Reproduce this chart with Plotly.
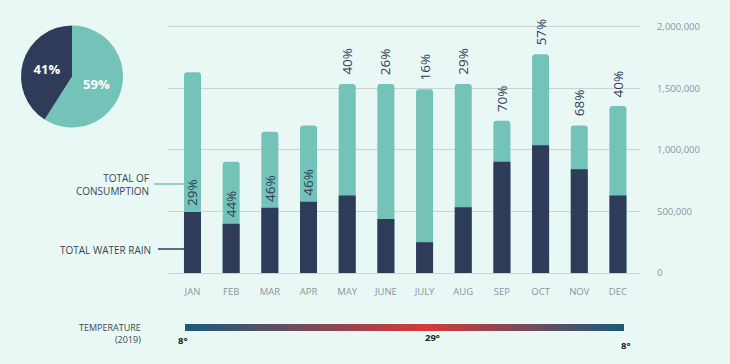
import plotly.graph_objects as go

# ---------------- data ----------------
months = ["JAN", "FEB", "MAR", "APR", "MAY", "JUNE", "JULY", "AUG", "SEP", "OCT", "NOV", "DEC"]
total_consumption = [1632000, 905000, 1149000, 1200000, 1537000, 1537000, 1493000, 1537000, 1238000, 1778000, 1200000, 1358000]
total_rain = [496000, 401000, 531000, 580000, 629000, 439000, 250000, 534000, 905000, 1038000, 843000, 629000]
pct_labels = [29, 44, 46, 46, 40, 26, 16, 29, 70, 57, 68, 40]
label_inside = [True, True, True, True, False, False, False, False, False, False, False, False]

pie_labels = ["TOTAL OF CONSUMPTION", "TOTAL WATER RAIN"]
pie_values = [59, 41]

y_ticks = [0, 500000, 1000000, 1500000, 2000000]

temp_months = [0, 6, 11]          # month index: JAN, JULY, DEC
temp_values = [8, 29, 8]
temp_title = ["TEMPERATURE", "(2019)"]

# ---------------- style ----------------
W, H = 730, 364
BG = "#e9f8f5"
TEAL = "#74c3b9"
NAVY = "#2f3c59"
GRID = "#c9d3d2"
GREY = "#8a959a"
TXT = "#3b4650"
FONT = "Open Sans"


def px_x(p):
    return p / W


def px_y(p):
    return 1 - p / H


# main plot area in pixels
PL, PR, PT, PB = 168, 640, 24.5, 273
YR = [0, 2020000]
XR = [-0.633, 11.57]
unit = (PR - PL) / (XR[1] - XR[0])
# temperature bar pixels
TL, TR, TT, TB = 185, 624, 324, 331
xr2 = [XR[0] + (TL - PL) / unit, XR[0] + (TR - PL) / unit]

fig = go.Figure()

fig.add_trace(go.Bar(
    x=months, y=total_consumption, marker=dict(color=TEAL, line=dict(width=0)),
    width=0.44, name="TOTAL OF CONSUMPTION", xaxis="x", yaxis="y",
))
fig.add_trace(go.Bar(
    x=months, y=total_rain, marker=dict(color=NAVY, line=dict(width=0)),
    width=0.44, name="TOTAL WATER RAIN", xaxis="x", yaxis="y",
))

fig.add_trace(go.Pie(
    labels=pie_labels, values=pie_values, sort=False, direction="clockwise",
    marker=dict(colors=[TEAL, NAVY], line=dict(width=0)),
    textinfo="percent", textposition="inside", insidetextorientation="horizontal",
    textfont=dict(family=FONT, size=13, color="white", weight="bold"),
    domain=dict(x=[px_x(21), px_x(123)], y=[px_y(128), px_y(25)]),
    showlegend=False, hoverinfo="label+percent", automargin=False,
))

fig.add_trace(go.Heatmap(
    x=temp_months, y=[0], z=[temp_values], zsmooth="best",
    colorscale=[[0, "#1e5a78"], [1, "#d63a3a"]], showscale=False,
    xaxis="x2", yaxis="y2", hoverinfo="skip",
))

annotations = []
for i, m in enumerate(months):
    inside = label_inside[i]
    annotations.append(dict(
        x=m, y=total_rain[i] if inside else total_consumption[i], xref="x", yref="y",
        text=f"{pct_labels[i]}%", textangle=-90, showarrow=False,
        xanchor="center", yanchor="bottom", yshift=4 if inside else 7,
        font=dict(family=FONT, size=13.5, color=NAVY),
    ))

# left callout labels
annotations += [
    dict(x=px_x(151), y=px_y(184), xref="paper", yref="paper", xanchor="right", yanchor="middle",
         text="TOTAL OF<br>CONSUMPTION", align="right", showarrow=False,
         font=dict(family=FONT, size=10, color=TXT)),
    dict(x=px_x(153), y=px_y(250), xref="paper", yref="paper", xanchor="right", yanchor="middle",
         text="TOTAL WATER RAIN", align="right", showarrow=False,
         font=dict(family=FONT, size=10, color=TXT)),
    dict(x=px_x(143), y=px_y(333), xref="paper", yref="paper", xanchor="right", yanchor="middle",
         text="<br>".join(temp_title), align="right", showarrow=False,
         font=dict(family=FONT, size=9, color=TXT)),
]
temp_label_px = [(183, 340), (432, 337), (626, 345)]
for (lx, ly), v in zip(temp_label_px, temp_values):
    annotations.append(dict(
        x=px_x(lx), y=px_y(ly), xref="paper", yref="paper", xanchor="center", yanchor="middle",
        text=f"<b>{v}°</b>", showarrow=False, font=dict(family=FONT, size=9.5, color="#222")))

shapes = [
    dict(type="line", xref="paper", yref="paper", x0=px_x(154), x1=px_x(184), y0=px_y(184), y1=px_y(184),
         line=dict(color=TEAL, width=1.5)),
    dict(type="line", xref="paper", yref="paper", x0=px_x(158), x1=px_x(184), y0=px_y(249), y1=px_y(249),
         line=dict(color=NAVY, width=1.5)),
]

fig.update_layout(
    template="none",
    width=W, height=H, margin=dict(l=0, r=0, t=0, b=0, pad=0, autoexpand=False),
    paper_bgcolor=BG, plot_bgcolor=BG, barmode="overlay", barcornerradius=3,
    showlegend=False, annotations=annotations, shapes=shapes,
    font=dict(family=FONT),
    xaxis=dict(domain=[px_x(PL), px_x(PR)], range=XR, type="category", categoryorder="array",
               categoryarray=months, showgrid=False, zeroline=False, showline=False, automargin=False,
               tickfont=dict(family=FONT, size=9.5, color=GREY), ticks="", ticklabelstandoff=11),
    yaxis=dict(domain=[px_y(PB), px_y(PT)], range=YR, side="right", tickvals=y_ticks,
               tickformat=",", showgrid=True, gridcolor=GRID, gridwidth=1, zeroline=True,
               zerolinecolor=GRID, zerolinewidth=1, showline=False, ticks="", automargin=False,
               tickfont=dict(family=FONT, size=9.5, color=GREY), ticklabelstandoff=16),
    xaxis2=dict(domain=[px_x(TL), px_x(TR)], range=xr2, visible=False, anchor="y2", automargin=False),
    yaxis2=dict(domain=[px_y(TB), px_y(TT)], range=[-0.5, 0.5], visible=False, anchor="x2", automargin=False),
)

fig.write_html("out.html", config={"displayModeBar": False},
               post_script="document.body.style.margin='0';document.body.style.overflow='hidden';")
